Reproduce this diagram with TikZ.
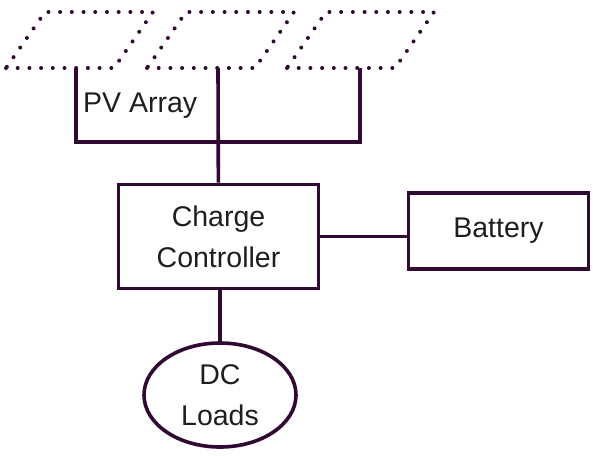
\documentclass[tikz,border=0pt]{standalone}
\usepackage{fontspec}
\setmainfont{Liberation Sans}
\usetikzlibrary{shapes.geometric}
\definecolor{wire}{RGB}{48,10,50}
\definecolor{txt}{RGB}{30,30,30}

\tikzset{
	wire/.style={draw=wire, line width=3.6pt},
	panel/.style={draw=wire, line width=4pt, line cap=round, dash pattern=on 0pt off 11.7pt},
	block/.style={wire, rectangle, text=txt, align=center, font=\fontsize{28.5}{41}\selectfont},
}

\begin{document}
\begin{tikzpicture}[x=1pt, y=-1pt]
			\useasboundingbox (0,0) rectangle (593,455);

			% solar panels
			\foreach \dx in {0, 141, 281}
			\draw[panel, shift={(\dx,0)}] (6,68) -- (114,68) -- (153,12) -- (45,12) -- cycle;

			\coordinate (pv1) at (76,68);
			\coordinate (pv2) at (218,68);
			\coordinate (pv3) at (360,68);
			\coordinate (bus) at (218,142);

			\node[anchor=base west, inner xsep=0pt, text=txt, font=\fontsize{28.5}{41}\selectfont] (pvlabel) at (83,112) {PV Array};

			\node[block, minimum width=200pt, minimum height=104pt] (ctrl) at (218.5,236.5) {Charge\\Controller};
			\node[block, minimum width=180pt, minimum height=76pt] (bat) at (498.5,231) {Battery};
			\node[block, ellipse, minimum width=152pt, minimum height=104pt] (load) at (220,395) {DC\\Loads};

			\draw[wire] (pv1) |- (bus) -| (pv3);
			\draw[wire] (pv2) -- (ctrl);
			\draw[wire] (ctrl) -- (ctrl -| bat.west);
			\draw[wire] (ctrl.south -| load.north) -- (load);
		\end{tikzpicture}
\end{document}
